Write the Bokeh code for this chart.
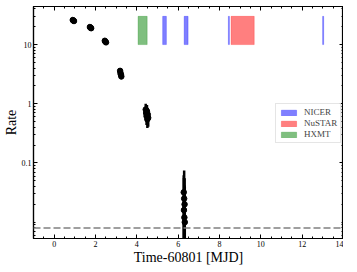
import numpy as np
from bokeh.plotting import figure
from bokeh.models import (Range1d, LinearAxis, LogAxis, FixedTicker, Span,
                          CustomJSTickFormatter, Legend, LegendItem, ColumnDataSource)
from bokeh.embed import file_html
from bokeh.resources import INLINE

# ---- data ----
lc_x = [0.90, 0.93, 0.96,
        1.73, 1.76, 1.79,
        2.45, 2.48, 2.51,
        3.19, 3.21, 3.23, 3.25,
        4.43, 4.45, 4.47, 4.49, 4.51, 4.53, 4.55,
        6.27, 6.28, 6.29, 6.30, 6.31, 6.32]
lc_y = [26.0, 25.5, 25.0,
        19.8, 19.3, 18.9,
        11.6, 11.2, 10.9,
        3.6, 3.3, 3.1, 2.9,
        0.80, 0.70, 0.62, 0.75, 0.55, 0.66, 0.58,
        0.032, 0.016, 0.025, 0.012, 0.020, 0.010]
lc_err = [1.2, 1.2, 1.2,
          1.0, 1.0, 1.0,
          0.7, 0.7, 0.7,
          0.4, 0.4, 0.4, 0.3,
          0.20, 0.20, 0.18, 0.20, 0.16, 0.18, 0.17,
          0.030, 0.040, 0.050, 0.030, 0.035, 0.030]

nicer_start = [5.25, 6.29, 8.43, 12.99]
nicer_end = [5.43, 6.48, 8.48, 13.04]
nustar_start = [8.56]
nustar_end = [9.68]
hxmt_start = [4.06]
hxmt_end = [4.50]
band_low = 10.0
band_high = 30.0
bkg_level = 0.008

x_ticks = [0, 2, 4, 6, 8, 10, 12, 14]
y_ticks = [0.1, 1, 10]

FONT = "Liberation Serif"

p = figure(frame_width=310, frame_height=232, y_axis_type="log",
           x_range=Range1d(-1, 14), y_range=Range1d(0.0053, 44),
           output_backend="svg", toolbar_location=None,
           min_border_left=0, min_border_right=0, min_border_top=6, min_border_bottom=0)
p.background_fill_color = "white"
p.border_fill_color = "white"
p.grid.visible = False
p.outline_line_color = "black"
p.outline_line_width = 1.2

x_minor = list(np.arange(-1, 14.01, 0.5))
y_minor = [m * 10.0 ** e for e in (-3, -2, -1, 0, 1) for m in range(1, 10)]
xt = FixedTicker(ticks=x_ticks, minor_ticks=x_minor)
yt = FixedTicker(ticks=y_ticks, minor_ticks=y_minor)

def style(ax, labels=True):
    ax.major_tick_in = 4
    ax.major_tick_out = 0
    ax.minor_tick_in = 2
    ax.minor_tick_out = 0
    ax.axis_line_color = "black"
    ax.axis_line_width = 1.2
    ax.major_label_text_font = FONT
    ax.major_label_text_font_size = "8px"
    ax.major_label_text_color = "black"
    ax.major_label_standoff = 2
    ax.axis_label_text_font = FONT
    ax.axis_label_text_font_size = "14px"
    ax.axis_label_text_font_style = "normal"
    ax.axis_label_text_color = "black"
    if not labels:
        ax.major_label_text_font_size = "1px"
        ax.major_label_text_alpha = 0
        ax.major_label_standoff = 0

p.xaxis.ticker = xt
p.yaxis.ticker = yt
p.yaxis.formatter = CustomJSTickFormatter(code="return String(tick);")
style(p.xaxis[0])
style(p.yaxis[0])
p.xaxis.axis_label = "Time-60801 [MJD]"
p.yaxis.axis_label = "Rate"
p.xaxis.axis_label_standoff = 0
p.yaxis.axis_label_standoff = 0

top_ax = LinearAxis(ticker=xt)
style(top_ax, labels=False)
p.add_layout(top_ax, "above")
right_ax = LogAxis(ticker=yt)
style(right_ax, labels=False)
p.add_layout(right_ax, "right")

# observation windows
r_nicer = p.quad(left=nicer_start, right=nicer_end, bottom=band_low, top=band_high,
                 fill_color="blue", fill_alpha=0.5, line_color="blue", line_alpha=0.5, line_width=0.5)
r_nustar = p.quad(left=nustar_start, right=nustar_end, bottom=band_low, top=band_high,
                  fill_color="red", fill_alpha=0.5, line_color="red", line_alpha=0.5, line_width=0.5)
r_hxmt = p.quad(left=hxmt_start, right=hxmt_end, bottom=band_low, top=band_high,
                fill_color="green", fill_alpha=0.5, line_color="green", line_alpha=0.5, line_width=0.5)

# light curve with error bars
y = np.array(lc_y)
e = np.array(lc_err)
lo = np.maximum(y - e, 1e-4)
hi = y + e
src = ColumnDataSource(dict(x=lc_x, y=lc_y, lo=lo, hi=hi))
p.segment(x0="x", y0="lo", x1="x", y1="hi", source=src, line_color="black", line_width=2.5)
p.scatter(x="x", y="y", source=src, size=5.5, color="black")

p.add_layout(Span(location=bkg_level, dimension="width", line_color="gray",
                  line_dash="7 3", line_width=1.5))

legend = Legend(items=[LegendItem(label="NICER", renderers=[r_nicer]),
                       LegendItem(label="NuSTAR", renderers=[r_nustar]),
                       LegendItem(label="HXMT", renderers=[r_hxmt])],
                location=(242, 95))
legend.label_text_font = FONT
legend.label_text_font_size = "9px"
legend.glyph_width = 19
legend.glyph_height = 7
legend.label_height = 8
legend.spacing = 1
legend.padding = 3
legend.margin = 0
legend.label_standoff = 6
legend.border_line_color = "#cccccc"
legend.border_line_width = 1
legend.background_fill_alpha = 0.8
p.add_layout(legend, "center")

open("out.html", "w").write(file_html(p, INLINE))
